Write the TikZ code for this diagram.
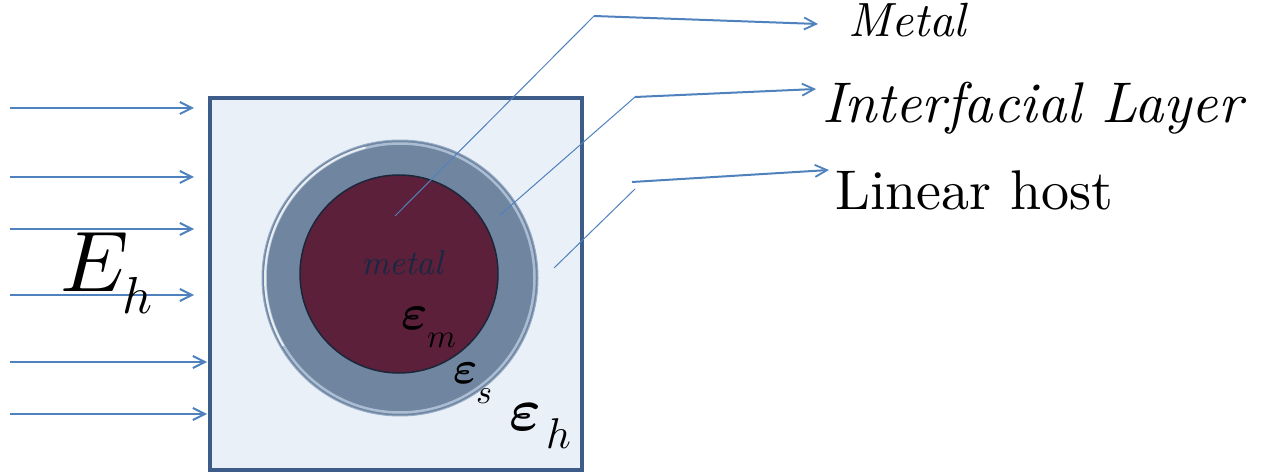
\documentclass[tikz,border=0pt]{standalone}
\usepackage{fontspec}
\usepackage{graphicx}
\usetikzlibrary{arrows.meta}
\definecolor{fieldblue}{RGB}{79,129,189}
\definecolor{boxedge}{RGB}{62,92,138}
\definecolor{boxfill}{RGB}{234,240,248}
\definecolor{shellfill}{RGB}{112,133,160}
\definecolor{shellrim}{RGB}{196,214,234}
\definecolor{shelledge}{RGB}{150,172,198}
\definecolor{corefill}{RGB}{92,32,58}
\definecolor{coreedge}{RGB}{28,38,58}
\definecolor{labelnavy}{RGB}{24,40,66}
\tikzset{
  field/.style={draw=fieldblue, line width=2pt,
    -{Straight Barb[length=12pt,width=12pt,line width=2pt]}},
  leader/.style={draw=fieldblue, line width=1pt},
  pointer/.style={draw=fieldblue, line width=2pt,
    -{Straight Barb[length=12pt,width=12pt,line width=1.8pt]}},
  txt/.style={inner sep=0pt, anchor=base west, text=black},
}
% math symbol scaled up from a 10pt base
\newcommand{\bigsym}[2]{\scalebox{#1}{$#2$}}
\newcommand{\bigeps}[1]{\scalebox{#1}{\boldmath$\varepsilon$}}
\begin{document}
\begin{tikzpicture}[x=1pt,y=-1pt]
\useasboundingbox (0,0) rectangle (1278,473);

% host medium
\node[draw=boxedge, fill=boxfill, line width=4pt, minimum width=372pt,
      minimum height=372pt, inner sep=0pt, anchor=north west] (host) at (208,96) {};

% coated particle: interfacial shell and metal core
\node[circle, fill=shellfill, draw=shelledge, line width=1pt,
      minimum size=276pt, inner sep=0pt] (shell) at (400,278) {};
\draw[shellrim, line width=2.5pt, opacity=0.7] (400,278) circle[radius=134.5];
\draw[white, line width=2pt, opacity=0.75, line cap=round]
  (400,278) ++(150:135) arc[start angle=150, end angle=255, radius=135];
\node[circle, fill=corefill, draw=coreedge, line width=1.5pt,
      minimum size=198pt, inner sep=0pt] (core) at (399,274) {};

% incident field lines
\foreach \yy/\xe/\nm in {108/194/f1,177/194/f2,229/194/f3,295/194/f4,362/207/f5,414/207/f6}{
  \coordinate (\nm s) at (10,\yy);
  \coordinate (\nm e) at (\xe,\yy);
  \draw[field] (\nm s) -- (\nm e);
}

% labels inside the picture
\node[txt] (Eh) at (60,292) {\bigsym{8.6}{E}};
\node[txt] (Ehsub) at (122,313) {\bigsym{5.2}{h}};
\node[txt, text=labelnavy] (metallbl) at (361,275)
  {\resizebox{82pt}{!}{\itshape metal}};
\node[txt] (epsm) at (401,330) {\bigeps{5.0}};
\node[txt] (epsmsub) at (427,347) {\bigsym{3.3}{m}};
\node[txt] (epss) at (453,383) {\bigeps{4.6}};
\node[txt] (epsssub) at (476,403) {\bigsym{3.4}{s}};
\node[txt] (epsh) at (509,430) {\bigeps{6.0}};
\node[txt] (epshsub) at (546,448) {\bigsym{4.3}{h}};

% legend texts
\node[txt] (lmetal) at (848,37) {\resizebox{118pt}{!}{\itshape Metal}};
\node[txt] (llayer) at (822,123) {\resizebox{420pt}{!}{\itshape Interfacial Layer}};
\node[txt] (lhost) at (835,210) {\resizebox{278pt}{!}{Linear host}};

% leader lines from each region to its legend text
\coordinate (pm0) at (395,216);
\coordinate (pm1) at (594,16);
\coordinate (pm2) at (818,24);
\draw[leader] (pm0) -- (pm1);
\draw[pointer] (pm1) -- (pm2);

\coordinate (pl0) at (500,215);
\coordinate (pl1) at (635,97);
\coordinate (pl2) at (816,89);
\draw[leader] (pl0) -- (pl1);
\draw[pointer] (pl1) -- (pl2);

\coordinate (ph0) at (554,268);
\coordinate (ph1) at (635,189);
\coordinate (ph2) at (632,182);
\coordinate (ph3) at (829,170);
\draw[leader] (ph0) -- (ph1);
\draw[pointer] (ph2) -- (ph3);
\end{tikzpicture}
\end{document}
